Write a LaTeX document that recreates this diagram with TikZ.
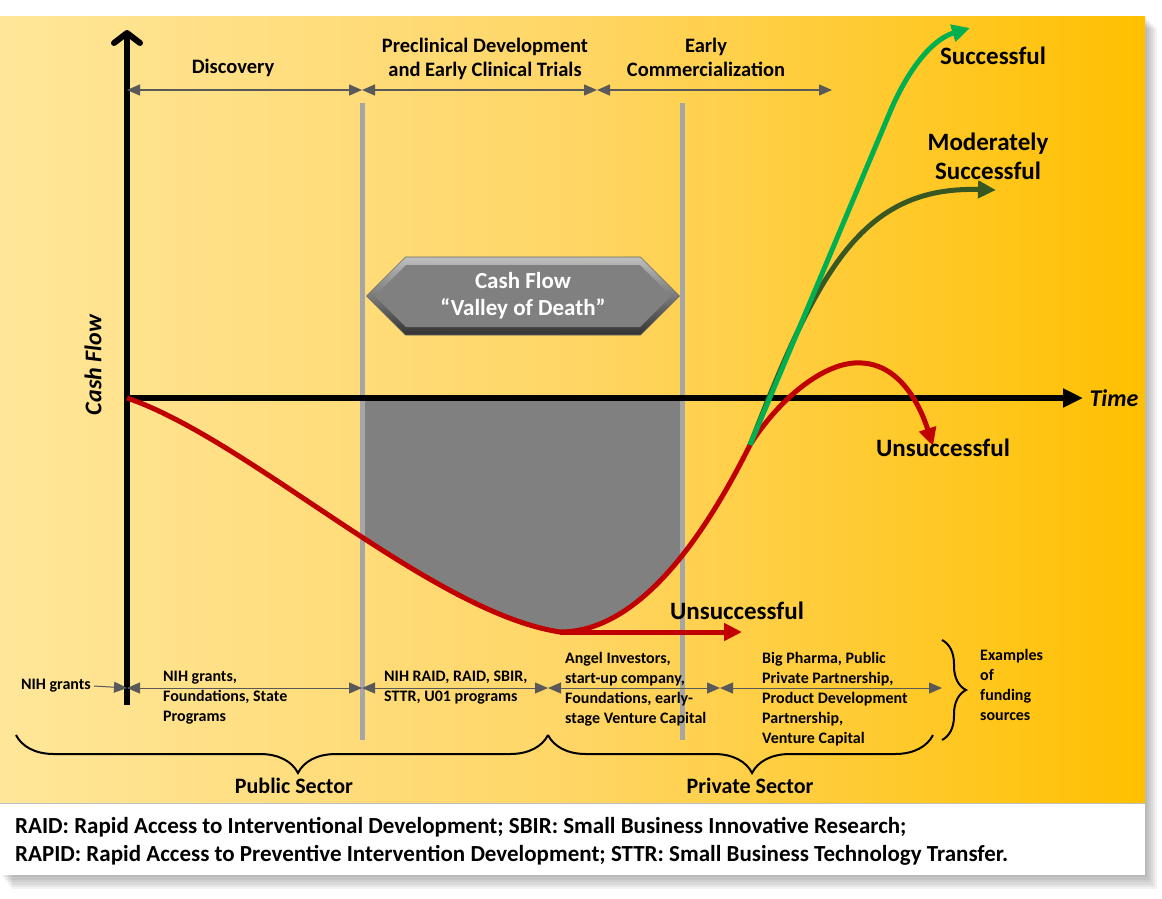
\documentclass[tikz,border=0pt]{standalone}
\usepackage{fontspec}
\setmainfont{Carlito}
\usetikzlibrary{arrows.meta,positioning,decorations.pathreplacing,shapes.symbols}
\definecolor{paleyellow}{RGB}{255,230,153}
\definecolor{midyellow}{RGB}{255,214,102}
\definecolor{deepamber}{RGB}{255,192,0}
\definecolor{darkred}{RGB}{192,0,0}
\definecolor{brightgreen}{RGB}{0,176,80}
\definecolor{olivegreen}{RGB}{56,87,35}
\definecolor{slategray}{RGB}{89,89,89}
\definecolor{linegray}{RGB}{166,166,166}
\definecolor{valleygray}{RGB}{128,128,128}

\begin{document}
\begin{tikzpicture}
  [x=1pt,y=-1pt,
   phasearrow/.style={{Triangle[length=13pt,width=11pt]}-{Triangle[length=13pt,width=11pt]},draw=slategray,fill=slategray,line width=1.5pt},
   fundarrow/.style={phasearrow,line width=1pt},
   fundtip/.style={-{Triangle[length=13pt,width=11pt]},draw=slategray,fill=slategray,line width=1pt},
   divider/.style={draw=linegray,line width=5pt},
   axisline/.style={line width=6pt},
   flowtip/.style={-{Triangle[length=18pt,width=17pt]}},
   redflow/.style={draw=darkred,line width=5pt},
   greenflow/.style={draw=brightgreen,line width=5pt},
   oliveflow/.style={draw=olivegreen,line width=5pt},
   bevel/.style={signal,signal to=east and west,signal pointer angle=90,inner sep=0pt},
   headlabel/.style={font=\bfseries\fontsize{20.5}{24}\selectfont,align=center},
   outcomelabel/.style={font=\bfseries\fontsize{25}{29}\selectfont,align=center},
   axislabel/.style={font=\bfseries\itshape\fontsize{24}{29}\selectfont},
   fundlabel/.style={font=\bfseries\fontsize{16}{20}\selectfont,align=left,anchor=north west,inner sep=0pt},
   sectorlabel/.style={font=\bfseries\fontsize{22}{26}\selectfont},
   notelabel/.style={font=\bfseries\fontsize{23}{28}\selectfont,align=left,anchor=west,inner sep=0pt},
   curly/.style={decorate,draw=black,line width=2pt,decoration={brace,amplitude=#1}}]

  \useasboundingbox (0,0) rectangle (1162,898);

  % panel with drop shadow
  \foreach \d in {2,4,...,12}
    \fill[black,opacity=.05] (\d,16+\d) rectangle (1145+\d,875+1.2*\d);
  \shade[left color=paleyellow,right color=deepamber,middle color=midyellow]
    (0,16) rectangle (1145,803);
  \fill[white] (0,803) rectangle (1145,875);
  \draw[black!25] (0,803) -- (1145,803);

  % key points of the curves
  \coordinate (O)     at (127,398);
  \coordinate (ytop)  at (127,30);
  \coordinate (ybot)  at (127,705);
  \coordinate (xend)  at (1083,398);
  \coordinate (vmin)  at (560,632);
  \coordinate (split) at (750,445);
  \coordinate (rpeak) at (862,363);
  \coordinate (rtip)  at (933,446);
  \coordinate (rflat) at (742,632);
  \coordinate (gbend) at (890,112);
  \coordinate (gtip)  at (970,28);
  \coordinate (otip)  at (996,190);

  % valley below the axis
  \begin{scope}
    \clip (365,401) rectangle (682,700);
    \fill[valleygray] (O) .. controls (250,440) and (430,612) .. (vmin)
      .. controls (640,632) and (705,535) .. (split) -- (split |- O) -- cycle;
  \end{scope}

  % phase dividers
  \foreach \x [count=\i] in {362,682} {
    \coordinate (div\i top) at (\x,103);
    \coordinate (div\i bot) at (\x,740);
    \draw[divider] (div\i top) -- (div\i bot);
  }

  % axes
  \draw[axisline,-{Straight Barb[round,length=10pt,width=26pt]}] (ybot) -- (ytop);
  \draw[axisline,-{Triangle[length=20pt,width=18pt]}] (O) -- (xend);
  \node[axislabel,right=3pt of xend] (time) {Time};
  \node[axislabel,rotate=90] (cash) at (93,365) {Cash Flow};

  % phases
  \foreach \x [count=\i from 0] in {127,362,597,832}
    \coordinate (p\i) at (\x,90);
  \foreach \a/\b in {p0/p1,p1/p2,p2/p3}
    \draw[phasearrow] (\a) -- (\b);
  \node[headlabel] (disc)  at (233,68) {Discovery};
  \node[headlabel] (precl) at (485,59) {Preclinical Development\\and Early Clinical Trials};
  \node[headlabel] (early) at (706,57) {Early\\Commercialization};

  % valley of death banner
  \node[bevel,top color=black!25,bottom color=black!80,draw=black!60,line width=.6pt,
        minimum width=313pt,minimum height=78pt] (vodframe) at (523,296) {};
  \node[bevel,fill=valleygray,text=white,font=\bfseries\fontsize{23}{27}\selectfont,align=center,
        minimum width=296pt,minimum height=62pt] (vod) at (vodframe.center)
        {Cash Flow\\“Valley of Death”};

  % outcomes
  \draw[redflow] (O) .. controls (250,440) and (430,612) .. (vmin)
    .. controls (640,632) and (705,535) .. (split)
    .. controls (778,400) and (825,360) .. (rpeak)
    .. controls (900,365) and (920,405) .. (rtip) [flowtip];
  \draw[redflow,flowtip] (vmin) -- (rflat);
  \draw[oliveflow,flowtip] (split) .. controls (818,270) and (862,186) .. (otip);
  \draw[greenflow,flowtip] (split) -- (gbend) .. controls (906,74) and (930,40) .. (gtip);
  \node[outcomelabel] (succ)    at (993,56)  {Successful};
  \node[outcomelabel] (modsucc) at (988,156) {Moderately\\Successful};
  \node[outcomelabel] (unsucc)  at (943,448) {Unsuccessful};
  \node[outcomelabel] (stall)   at (737,611) {Unsuccessful};

  % funding sources
  \foreach \x [count=\i from 0] in {127,362,548,720,942}
    \coordinate (f\i) at (\x,688);
  \foreach \a/\b in {f0/f1,f1/f2,f2/f3,f3/f4}
    \draw[fundarrow] (\a) -- (\b);
  \node[fundlabel,anchor=east,inner sep=3pt] (nih) at (94,686) {NIH grants};
  \draw[fundtip] (nih.east) -- (f0);
  \node[fundlabel] (pubfund) at (163,671) {NIH grants,\\Foundations, State\\Programs};
  \node[fundlabel] (sbir)    at (384,671) {NIH RAID, RAID, SBIR,\\STTR, U01 programs};
  \node[fundlabel] (angel)   at (565,652) {Angel Investors,\\start-up company,\\Foundations, early-\\stage Venture Capital};
  \node[fundlabel] (pharma)  at (762,652) {Big Pharma, Public\\Private Partnership,\\Product Development\\Partnership,\\Venture Capital};
  \coordinate (fbtop) at (942,640);
  \coordinate (fbbot) at (942,740);
  \draw[curly=24pt] (fbtop) -- (fbbot);
  \node[fundlabel] (examples) at (980,649) {Examples\\of\\funding\\sources};

  % sectors
  \coordinate (pub0)  at (16,735);
  \coordinate (pub1)  at (548,735);
  \coordinate (priv1) at (933,735);
  \draw[curly=38pt,decoration={mirror,aspect=.53}] (pub0) -- (pub1);
  \draw[curly=38pt,decoration={mirror,aspect=.53}] (pub1) -- (priv1);
  \node[sectorlabel] (public)  at (294,786) {Public Sector};
  \node[sectorlabel] (private) at (750,786) {Private Sector};

  % abbreviations
  \node[notelabel] (note) at (15,841)
    {RAID: Rapid Access to Interventional Development; SBIR: Small Business Innovative Research;\\
     RAPID: Rapid Access to Preventive Intervention Development; STTR: Small Business Technology Transfer.};

\end{tikzpicture}
\end{document}
